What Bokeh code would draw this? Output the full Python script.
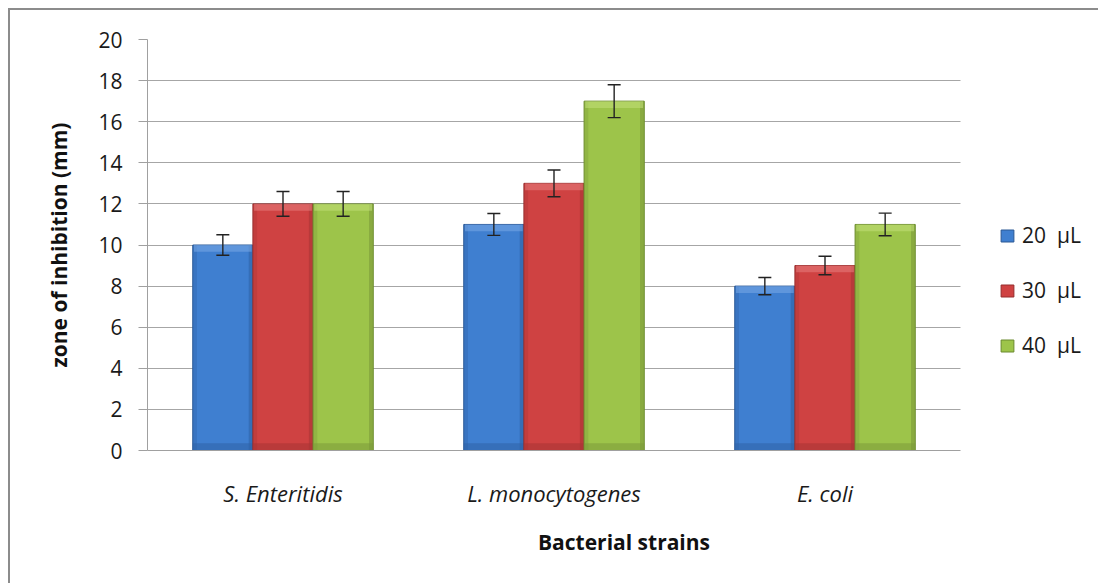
from bokeh.plotting import figure
from bokeh.models import (ColumnDataSource, Range1d, Whisker, TeeHead, Legend, LegendItem,
                          SingleIntervalTicker, FixedTicker)
from bokeh.embed import file_html
from bokeh.resources import INLINE

categories = ["S. Enteritidis", "L. monocytogenes", "E. coli"]
series_names = ["20  \u03bcL", "30  \u03bcL", "40  \u03bcL"]
v20 = [10, 11, 8]
v30 = [12, 13, 9]
v40 = [12, 17, 11]
e20 = [0.5, 0.53, 0.42]
e30 = [0.6, 0.65, 0.45]
e40 = [0.6, 0.8, 0.55]

FONT = "Open Sans"
fills = ["#3f7fd0", "#cf4242", "#9dc44a"]
edges = ["#2b5894", "#952c2c", "#6b8a2e"]
tops = ["#7aaae6", "#e77f7f", "#c3e07a"]
sides = ["#2f62a6", "#a83535", "#7c9a3a"]

W, H = 1090, 575
LEFT, TOP, BOTTOM = 137, 29, 135
PLOT_W = 813  # width of the category area in px; the rest of the frame holds the legend
n = len(categories)
x_end = n * (W - LEFT) / PLOT_W
centers = [i + 0.5 for i in range(n)]

p = figure(x_range=Range1d(0, x_end), y_range=Range1d(0, 20),
           width=W, height=H, output_backend="svg", toolbar_location=None,
           min_border_left=LEFT, min_border_right=0, min_border_top=TOP, min_border_bottom=BOTTOM)
p.styles = {"border-top": "2px solid #8c8c8c", "border-left": "2px solid #8c8c8c",
            "margin-left": "8px", "margin-top": "8px"}
p.outline_line_color = None
p.background_fill_color = "white"

offsets = [-0.222, 0.0, 0.222]
bw = 0.222
sw = bw * 0.07
items = []
for vals, errs, off, fc, ec, tc, sc, name in zip([v20, v30, v40], [e20, e30, e40], offsets, fills, edges, tops, sides, series_names):
    src = ColumnDataSource(dict(x=[c + off for c in centers], val=vals,
                                xr=[c + off + (bw - sw) / 2 for c in centers],
                                xl=[c + off - (bw - sw) / 2 for c in centers],
                                upper=[v + e for v, e in zip(vals, errs)],
                                lower=[v - e for v, e in zip(vals, errs)],
                                hl=[v - 0.33 for v in vals]))
    r = p.vbar(x="x", top="val", bottom=0, width=bw, source=src,
               fill_color=fc, line_color=ec, line_width=1)
    # bottom darker band
    p.vbar(x="x", top=0.35, bottom=0, width=bw, source=src,
           fill_color=sc, fill_alpha=0.55, line_color=None)
    # side shading
    p.vbar(x="xr", top="val", bottom=0, width=sw,
           source=src, fill_color=sc, fill_alpha=0.6, line_color=None)
    p.vbar(x="xl", top="val", bottom=0, width=sw,
           source=src, fill_color=sc, fill_alpha=0.35, line_color=None)
    # top bevel highlight
    p.vbar(x="x", top="val", bottom="hl", width=bw * 0.96, source=src,
           fill_color=tc, fill_alpha=0.55, line_color=None)
    w = Whisker(base="x", upper="upper", lower="lower", source=src,
                line_color="#222222", line_width=1.4, level="overlay",
                upper_head=TeeHead(size=13, line_color="#222222", line_width=1.4),
                lower_head=TeeHead(size=13, line_color="#222222", line_width=1.4))
    p.add_layout(w)
    items.append(LegendItem(label=name, renderers=[r]))

legend = Legend(items=items, location=(852, 91), orientation="vertical",
                border_line_color=None, background_fill_alpha=0, padding=0, margin=0,
                glyph_width=16, glyph_height=15, label_height=20, spacing=27, label_standoff=7,
                label_text_font=FONT, label_text_font_size="21px", label_text_color="#1a1a1a")
p.add_layout(legend, "center")

# y axis
p.yaxis.ticker = SingleIntervalTicker(interval=2)
p.yaxis.axis_line_color = "#a0a0a0"
p.yaxis.major_tick_line_color = "#a0a0a0"
p.yaxis.major_tick_out = 9
p.yaxis.major_tick_in = 0
p.yaxis.minor_tick_line_color = None
p.yaxis.major_label_standoff = 16
p.yaxis.major_label_text_font = FONT
p.yaxis.major_label_text_font_size = "21px"
p.yaxis.major_label_text_color = "#1a1a1a"
p.yaxis.axis_label = "zone of inhibition (mm)"
p.yaxis.axis_label_text_font = FONT
p.yaxis.axis_label_text_font_size = "21px"
p.yaxis.axis_label_text_font_style = "bold"
p.yaxis.axis_label_text_color = "#111111"
p.yaxis.axis_label_standoff = 22

# x axis
p.xaxis.bounds = (0, n)
p.xaxis.ticker = FixedTicker(ticks=centers)
p.xaxis.major_label_overrides = {c: name for c, name in zip(centers, categories)}
p.xaxis.axis_line_color = "#a0a0a0"
p.xaxis.major_tick_line_color = None
p.xaxis.minor_tick_line_color = None
p.xaxis.major_tick_out = 0
p.xaxis.major_label_standoff = 27
p.xaxis.major_label_text_font = FONT
p.xaxis.major_label_text_font_size = "22px"
p.xaxis.major_label_text_font_style = "italic"
p.xaxis.major_label_text_color = "#1a1a1a"
p.xaxis.axis_label = "Bacterial strains"
p.xaxis.axis_label_text_font = FONT
p.xaxis.axis_label_text_font_size = "21px"
p.xaxis.axis_label_text_font_style = "bold"
p.xaxis.axis_label_text_color = "#111111"
p.xaxis.axis_label_standoff = 17

p.xgrid.grid_line_color = None
p.ygrid.grid_line_color = "#a6a6a6"
p.ygrid.grid_line_width = 1
p.ygrid.cross_bounds = (0, n)

open("out.html", "w").write(file_html(p, INLINE))
